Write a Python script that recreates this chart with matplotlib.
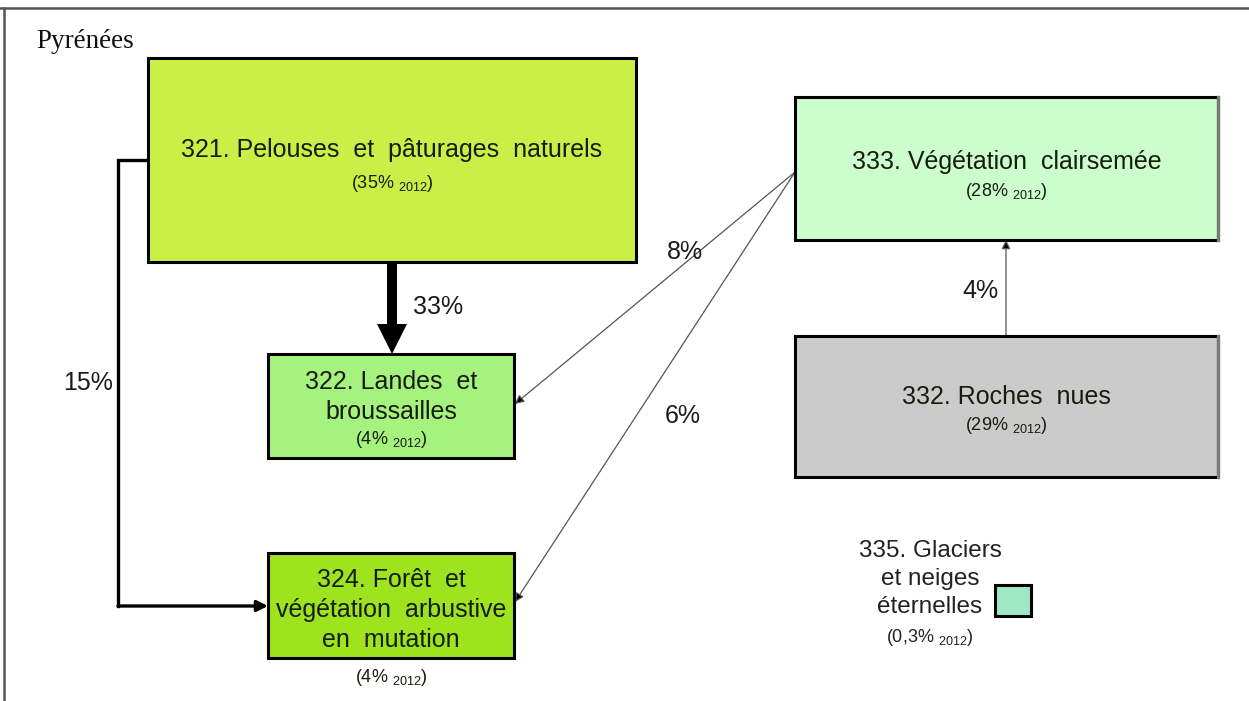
import matplotlib
matplotlib.use("Agg")
import matplotlib.pyplot as plt
from matplotlib.patches import Rectangle, FancyArrow
from matplotlib.lines import Line2D

plt.rcParams['font.family'] = ['Liberation Sans', 'DejaVu Sans']
plt.rcParams['mathtext.fontset'] = 'custom'
plt.rcParams['mathtext.rm'] = 'Liberation Sans'

# land cover classes (Corine codes), labels and 2012 share
codes = ['321', '322', '324', '333', '332', '335']
names = ['Pelouses  et  pâturages  naturels',
         'Landes  et\nbroussailles',
         'Forêt  et\nvégétation  arbustive\nen  mutation',
         'Végétation  clairsemée',
         'Roches  nues',
         'Glaciers\net neiges\néternelles']
shares_2012 = ['35%', '4%', '4%', '28%', '29%', '0,3%']

# transitions between classes
flow_from = ['321', '321', '333', '333', '332']
flow_to = ['322', '324', '322', '324', '333']
flow_pct = [33, 15, 8, 6, 4]

region = 'Pyrénées'

# ---- layout (pixel units, y downwards) ----
W, H = 1249, 701
boxes = {  # x0, y0, x1, y1
    '321': (148, 58, 636, 262),
    '322': (268, 354, 514, 458),
    '324': (268, 553, 514, 658),
    '333': (795, 97, 1218, 240),
    '332': (795, 336, 1218, 477),
    '335': (995, 585, 1031, 616),
}
fills = {'321': '#ccef48', '322': '#a6f27e', '324': '#9de41e',
         '333': '#ccfdcc', '332': '#cbcbcb', '335': '#9fe8c6'}
label_y = {'321': 150, '322': 397, '324': 610, '333': 162, '332': 397,
           '335': 579}
sub_y = {'321': 183, '322': 440, '324': 677, '333': 192, '332': 425,
         '335': 638}
flow_path = {
    ('321', '322'): [(392, 262), (392, 354)],
    ('321', '324'): [(148, 160), (118, 160), (118, 606), (268, 606)],
    ('333', '322'): [(795, 172), (515, 404)],
    ('333', '324'): [(795, 172), (515, 602)],
    ('332', '333'): [(1006, 336), (1006, 240)],
}
flow_label_xy = {
    ('321', '322'): (438, 307),
    ('321', '324'): (88, 383),
    ('333', '322'): (685, 252),
    ('333', '324'): (683, 416),
    ('332', '333'): (980, 291),
}
txt_color = '#161c10'

fig = plt.figure(figsize=(W / 100, H / 100), dpi=100)
ax = fig.add_axes([0, 0, 1, 1])
ax.set_xlim(0, W)
ax.set_ylim(H, 0)
ax.axis('off')

# outer frame (top and left edges of the original picture)
ax.add_line(Line2D([0, W], [8, 8], color='#555555', lw=1.8))
ax.add_line(Line2D([4, 4], [8, H], color='#555555', lw=1.8))

ax.text(36, 42, region, family=['Liberation Serif', 'DejaVu Serif'],
        fontsize=19.5, va='center', ha='left', color='#111111')

# boxes
for code, name, share in zip(codes, names, shares_2012):
    x0, y0, x1, y1 = boxes[code]
    ax.add_patch(Rectangle((x0, y0), x1 - x0, y1 - y0, facecolor=fills[code],
                           edgecolor='black', lw=2.2, zorder=2))
    sub = '(%s $_{\\mathregular{2012}}$)' % share
    if code in ('333', '332'):
        # right side of these boxes is cut off in grey
        ax.add_line(Line2D([x1, x1], [y0, y1], color='#7a7a7a', lw=2.4, zorder=3))
    if code == '335':
        # small legend square, text to its left
        ax.text(930, label_y[code], code + '. ' + name, ha='center',
                va='center', fontsize=17.5, color='#222222', linespacing=1.37)
        ax.text(930, sub_y[code], sub, ha='center', va='center', fontsize=13,
                color='#222222')
        continue
    ax.text((x0 + x1) / 2, label_y[code], code + '. ' + name, ha='center',
            va='center', fontsize=18, color=txt_color, linespacing=1.33,
            zorder=4)
    ax.text((x0 + x1) / 2, sub_y[code], sub, ha='center', va='center',
            fontsize=13, color=txt_color, zorder=4)

# flows
for src, dst, pct in zip(flow_from, flow_to, flow_pct):
    pts = flow_path[(src, dst)]
    xs = [p[0] for p in pts]
    ys = [p[1] for p in pts]
    if pct >= 30:
        # big arrow
        ax.add_patch(FancyArrow(xs[0], ys[0], 0, ys[-1] - ys[0], width=10,
                                head_width=30, head_length=30,
                                length_includes_head=True, color='black',
                                lw=0, zorder=1))
    elif pct >= 10:
        ax.add_line(Line2D(xs[:-1], ys[:-1], color='black', lw=2.4,
                           solid_joinstyle='miter', zorder=1))
        ax.annotate('', xy=pts[-1], xytext=pts[-2],
                    arrowprops=dict(arrowstyle='-|>', color='black', lw=2.4,
                                    mutation_scale=16, shrinkA=0, shrinkB=0),
                    zorder=1)
    else:
        ax.annotate('', xy=pts[-1], xytext=pts[0],
                    arrowprops=dict(arrowstyle='-|>', color='#555555', lw=0.9,
                                    mutation_scale=13, shrinkA=0, shrinkB=0,
                                    fc='black'),
                    zorder=1)
    lx, ly = flow_label_xy[(src, dst)]
    ax.text(lx, ly, '%d%%' % pct, ha='center', va='center', fontsize=18,
            color='#1a1a1a')

fig.savefig('out.png', dpi=100)
